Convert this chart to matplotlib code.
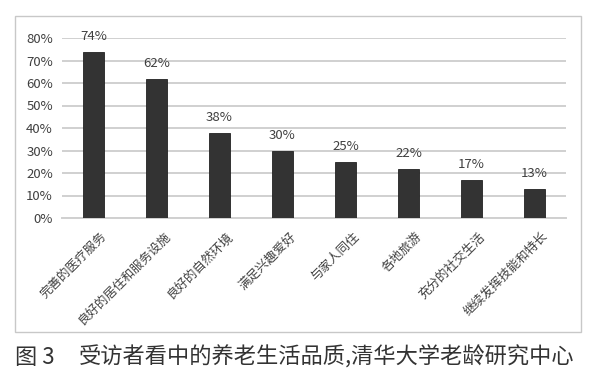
import matplotlib
matplotlib.use("Agg")
import matplotlib.pyplot as plt
from matplotlib.patches import Rectangle
from matplotlib.ticker import PercentFormatter
import matplotlib.transforms as mtransforms

plt.rcParams['font.family'] = ['Noto Sans CJK SC', 'DejaVu Sans']

categories = ["完善的医疗服务", "良好的居住和服务设施", "良好的自然环境", "满足兴趣爱好",
              "与家人同住", "各地旅游", "充分的社交生活", "继续发挥技能和特长"]
values = [74, 62, 38, 30, 25, 22, 17, 13]
yticks = [0, 10, 20, 30, 40, 50, 60, 70, 80]
caption_fig = "图 3"
caption_text = "受访者看中的养老生活品质,清华大学老龄研究中心"

W, H = 600, 379
fig = plt.figure(figsize=(W / 100, H / 100), dpi=100)
fig.patch.set_facecolor("white")

# outer frame
fig.patches.append(Rectangle((15 / W, 1 - 332 / H), (581 - 15) / W, (332 - 16) / H,
                             transform=fig.transFigure, fill=False,
                             edgecolor="#c8c8c8", linewidth=1.0))

ax = fig.add_axes([62 / W, 1 - 218 / H, (566 - 62) / W, (218 - 38) / H])
x = list(range(len(categories)))
ax.bar(x, values, width=0.32, color="#333333", edgecolor="#222222", linewidth=0.6, zorder=3)
ax.set_xlim(-0.5, len(categories) - 0.5)
ax.set_ylim(0, 80)
ax.set_yticks(yticks)
ax.yaxis.set_major_formatter(PercentFormatter(decimals=0))
ax.grid(axis="y", color="#d0d0d0", linewidth=1.4, zorder=0)
for s in ["left", "right", "top"]:
    ax.spines[s].set_visible(False)
ax.spines["bottom"].set_color("#d0d0d0")
ax.spines["bottom"].set_linewidth(1.4)
ax.tick_params(axis="both", length=0, colors="#404040")
ax.tick_params(axis="y", labelsize=9.5, pad=6.5)
ax.set_xticks(x)
ax.set_xticklabels(categories, rotation=45, ha="right", va="top",
                   rotation_mode="anchor", fontsize=9, color="#404040")
offset = mtransforms.ScaledTranslation(7 / 100, -7 / 100, fig.dpi_scale_trans)
for lab in ax.get_xticklabels():
    lab.set_transform(lab.get_transform() + offset)

for xi, v in zip(x, values):
    ax.annotate(f"{v}%", (xi, v), xytext=(0, 6), textcoords="offset points",
                ha="center", va="bottom", fontsize=9.5, color="#404040")

fig.text(15 / W, 1 - 357 / H, caption_fig, fontsize=16, color="#333333",
         ha="left", va="center")
fig.text(79 / W, 1 - 357 / H, caption_text, fontsize=16, color="#333333",
         ha="left", va="center")

fig.savefig("out.png", dpi=100, facecolor="white")
